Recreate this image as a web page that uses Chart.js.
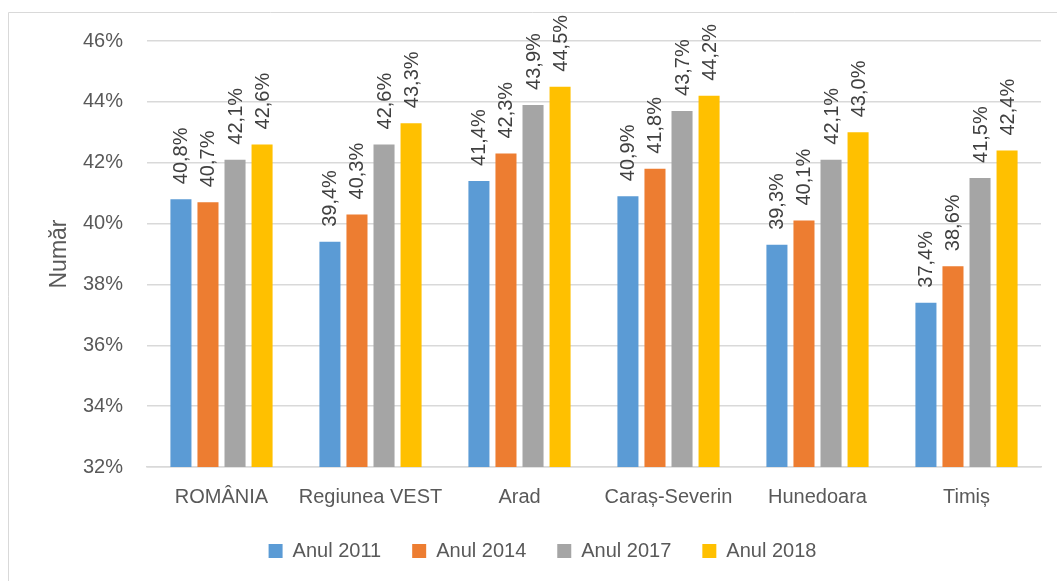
<!DOCTYPE html>
<html>
<head>
<meta charset="utf-8">
<script src="https://cdn.jsdelivr.net/npm/chart.js@4"></script>
<style>
  html, body { margin: 0; padding: 0; background: #fff; }
  #wrap { width: 1057px; height: 581px; position: relative; }
</style>
</head>
<body>
<div id="wrap"><canvas id="myChart"></canvas></div>
<script>
var categorii = ['ROMÂNIA', 'Regiunea VEST', 'Arad', 'Caraș-Severin', 'Hunedoara', 'Timiș'];
var ani = ['Anul 2011', 'Anul 2014', 'Anul 2017', 'Anul 2018'];
var valori2011 = [40.8, 39.4, 41.4, 40.9, 39.3, 37.4];
var valori2014 = [40.7, 40.3, 42.3, 41.8, 40.1, 38.6];
var valori2017 = [42.1, 42.6, 43.9, 43.7, 42.1, 41.5];
var valori2018 = [42.6, 43.3, 44.5, 44.2, 43.0, 42.4];
var culori = ['#5B9BD5', '#ED7D31', '#A5A5A5', '#FFC000'];
var yMin = 32, yMax = 46, yPas = 2;

var font = 'Liberation Sans';
var grigio = '#595959';

function formatPct(v) {
    return v.toFixed(1).replace('.', ',') + '%';
}

// frame on the left and top
var cornice = {
    id: 'cornice',
    beforeDraw: function (chart) {
        var ctx = chart.ctx;
        ctx.save();
        ctx.strokeStyle = '#d9d9d9';
        ctx.lineWidth = 1;
        ctx.beginPath();
        ctx.moveTo(8.5, 581);
        ctx.lineTo(8.5, 12.5);
        ctx.lineTo(1057, 12.5);
        ctx.stroke();
        ctx.restore();
    },
    // legend is centred on the frame, a bit right of the canvas centre
    afterLayout: function (chart) {
        if (chart.legend) {
            chart.legend.left += 22;
            chart.legend.right += 22;
        }
    }
};

// rotated value labels above the bars
var etichette = {
    id: 'etichette',
    afterDatasetsDraw: function (chart) {
        var ctx = chart.ctx;
        ctx.save();
        ctx.font = '20px "' + font + '"';
        ctx.fillStyle = '#404040';
        ctx.textAlign = 'left';
        ctx.textBaseline = 'middle';
        chart.data.datasets.forEach(function (ds, i) {
            var meta = chart.getDatasetMeta(i);
            meta.data.forEach(function (bar, j) {
                ctx.save();
                ctx.translate(bar.x + 1, bar.y - 15);
                ctx.rotate(-Math.PI / 2);
                ctx.fillText(formatPct(ds.data[j]), 0, 0);
                ctx.restore();
            });
        });
        ctx.restore();
    }
};

var serie = [valori2011, valori2014, valori2017, valori2018];
var datasets = [];
for (var i = 0; i < ani.length; i++) {
    datasets.push({
        label: ani[i],
        data: serie[i],
        backgroundColor: culori[i],
        borderWidth: 0,
        categoryPercentage: 0.726,
        barPercentage: 0.778
    });
}

var ctx = document.getElementById('myChart');
var chart = new Chart(ctx, {
    type: 'bar',
    data: {
        labels: categorii,
        datasets: datasets
    },
    options: {
        responsive: true,
        maintainAspectRatio: false,
        animation: false,
        layout: {
            padding: { left: 0, right: 16, top: 41, bottom: 10 }
        },
        plugins: {
            legend: {
                position: 'bottom',
                labels: {
                    boxWidth: 14,
                    boxHeight: 14,
                    padding: 31,
                    color: grigio,
                    font: { family: font, size: 20 }
                }
            },
            tooltip: { enabled: false }
        },
        scales: {
            x: {
                grid: { display: false, drawTicks: false },
                border: { display: true, color: '#d9d9d9', width: 1.5 },
                ticks: {
                    color: grigio,
                    padding: 18,
                    maxRotation: 0,
                    font: { family: font, size: 20 }
                },
                afterFit: function (scale) { scale.height = 43; }
            },
            y: {
                min: yMin,
                max: yMax,
                grid: { color: '#d9d9d9', lineWidth: 1.5, drawTicks: false },
                border: { display: false },
                ticks: {
                    stepSize: yPas,
                    color: grigio,
                    padding: 24,
                    font: { family: font, size: 20 },
                    callback: function (v) { return v + '%'; }
                },
                title: {
                    display: true,
                    text: 'Număr',
                    color: grigio,
                    font: { family: font, size: 23 },
                    padding: { top: 46, bottom: 0 }
                },
                afterFit: function (scale) { scale.width = 147; }
            }
        }
    },
    plugins: [cornice, etichette]
});
</script>
</body>
</html>
